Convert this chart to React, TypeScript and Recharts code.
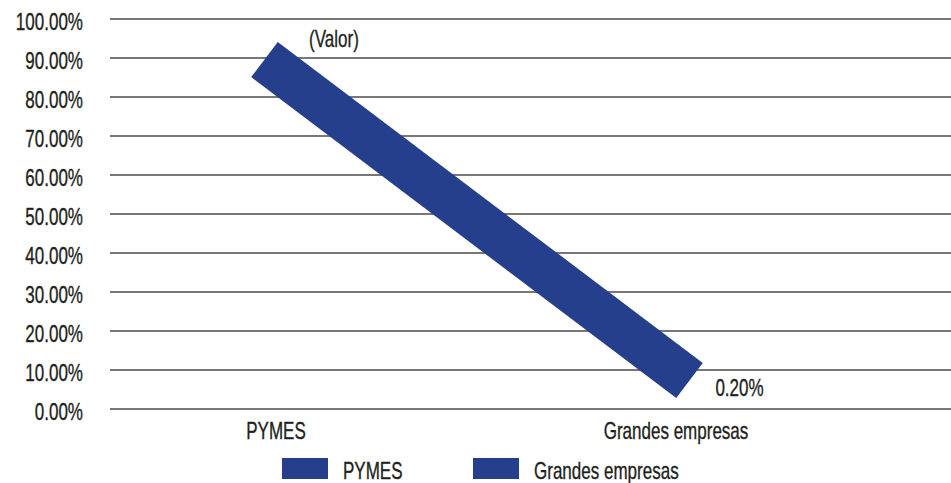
import { CartesianGrid, LabelList, Legend, Line, LineChart, XAxis, YAxis } from "recharts";

const categories = ["PYMES", "Grandes empresas"];
const shares = [0.896, 0.073];
const valueLabels = ["(Valor)", "0.20%"];
const yTicks = [0, 0.1, 0.2, 0.3, 0.4, 0.5, 0.6, 0.7, 0.8, 0.9, 1];

const blue = "#263f8d";
const ink = "#231f20";
const font = "'Liberation Sans', Arial, sans-serif";
const fontSize = 23;
const squeeze = 0.74; // narrow the glyphs to look like a condensed face

const data = categories.map((name, i) => ({ name, share: shares[i], label: valueLabels[i] }));

const pct = (v: number) => `${(v * 100).toFixed(2)}%`;

function Narrow({ x, y, anchor, children }: { x: number; y: number; anchor: "start" | "middle" | "end"; children: any }) {
  return (
    <text
      transform={`translate(${x},${y}) scale(${squeeze},1)`}
      textAnchor={anchor}
      fontSize={fontSize}
      fontFamily={font}
      fill={ink}
      stroke={ink}
      strokeWidth={0.35}
    >
      {children}
    </text>
  );
}

function YTick(props: any) {
  const { x, y, payload } = props;
  return <Narrow x={x} y={y + 11} anchor="end">{pct(payload.value)}</Narrow>;
}

// category labels sit a little inside the ends of the band
const tickShift = [11.5, -13.5];

function XTick(props: any) {
  const { x, y, payload, index } = props;
  return <Narrow x={x + (tickShift[index] || 0)} y={y + 24} anchor="middle">{payload.value}</Narrow>;
}

const labelOffset = [
  { dx: 69.5, dy: -12.5 },
  { dx: 50, dy: 15.5 }
];

function ValueLabel(props: any) {
  const { x, y, value, index } = props;
  const o = labelOffset[index] || { dx: 0, dy: 0 };
  return <Narrow x={x + o.dx} y={y + o.dy} anchor="middle">{value}</Narrow>;
}

function LegendBoxes() {
  return (
    <svg width={951} height={483} style={{ display: "block" }}>
      {categories.map((c, i) => (
        <g key={c}>
          <rect x={282 + i * 191} y={458} width={46} height={21} fill={blue} />
          <Narrow x={343 + i * 191} y={479} anchor="start">{c}</Narrow>
        </g>
      ))}
    </svg>
  );
}

export default function App() {
  return (
    <div style={{ position: "absolute", left: 0, top: 0, width: 951, height: 483, background: "#fff" }}>
      <LineChart width={951} height={483} data={data} margin={{ top: 19, right: 0, bottom: 0, left: 0 }}>
        <CartesianGrid vertical={false} stroke="#4a4a4a" strokeWidth={1.5} />
        <XAxis
          dataKey="name"
          height={74}
          padding={{ left: 154.5, right: 261.5 }}
          axisLine={false}
          tickLine={false}
          tickMargin={0}
          tick={<XTick />}
        />
        <YAxis
          width={110}
          domain={[0, 1]}
          ticks={yTicks}
          axisLine={false}
          tickLine={false}
          tickMargin={21}
          tick={<YTick />}
        />
        <Legend
          verticalAlign="middle"
          align="center"
          layout="horizontal"
          wrapperStyle={{ position: "absolute", top: 0, left: 0, width: 951, height: 483, pointerEvents: "none" }}
          content={() => <LegendBoxes />}
        />
        <Line
          dataKey="share"
          stroke={blue}
          strokeWidth={44}
          dot={false}
          activeDot={false}
          isAnimationActive={false}
        >
          <LabelList dataKey="label" content={<ValueLabel />} />
        </Line>
      </LineChart>
    </div>
  );
}
